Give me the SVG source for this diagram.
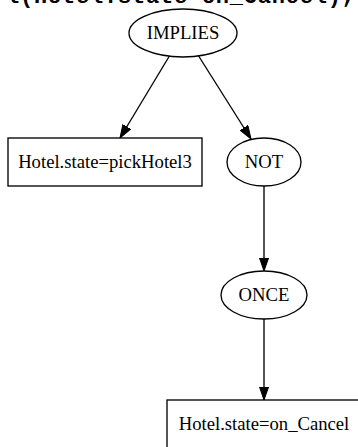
<svg xmlns="http://www.w3.org/2000/svg" width="358" height="447" viewBox="0 0 358 447">
<style>
.n{fill:#fff;stroke:#000;stroke-width:1.33}
.t{font-family:"Liberation Serif","Times New Roman",serif;font-size:18.67px;fill:#000;text-anchor:middle}
.e{fill:none;stroke:#000;stroke-width:1.33}
.h{font-family:"Liberation Mono","Courier New",monospace;font-weight:bold;font-size:22px;fill:#000}
</style>
<defs>
<marker id="a" markerWidth="14" markerHeight="10" refX="13.3" refY="4.7" orient="auto" markerUnits="userSpaceOnUse">
<path d="M0,0 L13.3,4.7 L0,9.3 z" fill="#000" stroke="#000" stroke-width="1"/>
</marker>
</defs>
<rect width="358" height="447" fill="#fff"/>
<text class="h" x="6" y="3" textLength="349" lengthAdjust="spacing">l(Hotel.state=on_Cancel),</text>
<g id="connectors">
<line class="e" x1="170" y1="55" x2="120" y2="138" marker-end="url(#a)"/>
<line class="e" x1="198" y1="55" x2="251" y2="139" marker-end="url(#a)"/>
<line class="e" x1="264" y1="186" x2="264" y2="271" marker-end="url(#a)"/>
<line class="e" x1="264" y1="319" x2="264" y2="400" marker-end="url(#a)"/>
</g>
<g id="implies">
<ellipse class="n" cx="183" cy="33" rx="54" ry="24"/>
<text class="t" x="183" y="39">IMPLIES</text>
</g>
<g id="pickHotel3">
<rect class="n" x="8" y="138" width="194" height="48"/>
<text class="t" x="105" y="168">Hotel.state=pickHotel3</text>
</g>
<g id="not">
<ellipse class="n" cx="264" cy="162" rx="37" ry="24"/>
<text class="t" x="264" y="168">NOT</text>
</g>
<g id="once">
<ellipse class="n" cx="264" cy="295" rx="43" ry="24"/>
<text class="t" x="264" y="301">ONCE</text>
</g>
<g id="onCancel">
<rect class="n" x="167" y="400" width="194" height="48"/>
<text class="t" x="264" y="430">Hotel.state=on_Cancel</text>
</g>
</svg>
